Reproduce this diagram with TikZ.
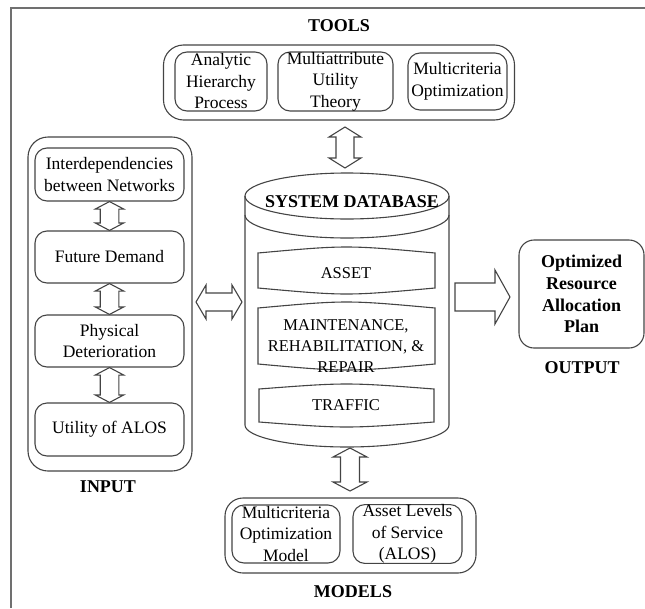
\documentclass[tikz,border=0pt]{standalone}
\usepackage{fontspec}
\setmainfont{Liberation Serif}
\usetikzlibrary{calc}
\definecolor{lc}{HTML}{444444}
\definecolor{fr}{HTML}{707070}

% vertical double block arrow: #1 top tip, #2 bottom tip, #3 shaft half width, #4 head half width, #5 head length
\newcommand\vdarrow[5]{%
  \draw[blockarrow] let \p1=(#1), \p2=(#2) in
    (\x1,\y1) -- (\x1+#4pt,\y1-#5pt) -- (\x1+#3pt,\y1-#5pt) -- (\x1+#3pt,\y2+#5pt)
    -- (\x1+#4pt,\y2+#5pt) -- (\x1,\y2) -- (\x1-#4pt,\y2+#5pt) -- (\x1-#3pt,\y2+#5pt)
    -- (\x1-#3pt,\y1-#5pt) -- (\x1-#4pt,\y1-#5pt) -- cycle;}
% horizontal double block arrow: #1 left tip, #2 right tip
\newcommand\hdarrow[5]{%
  \draw[blockarrow] let \p1=(#1), \p2=(#2) in
    (\x1,\y1) -- (\x1+#5pt,\y1+#4pt) -- (\x1+#5pt,\y1+#3pt) -- (\x2-#5pt,\y1+#3pt)
    -- (\x2-#5pt,\y1+#4pt) -- (\x2,\y1) -- (\x2-#5pt,\y1-#4pt) -- (\x2-#5pt,\y1-#3pt)
    -- (\x1+#5pt,\y1-#3pt) -- (\x1+#5pt,\y1-#4pt) -- cycle;}
% single block arrow pointing right: #1 tail, #2 tip
\newcommand\hsarrow[5]{%
  \draw[blockarrow] let \p1=(#1), \p2=(#2) in
    (\x1,\y1+#3pt) -- (\x2-#5pt,\y1+#3pt) -- (\x2-#5pt,\y1+#4pt) -- (\x2,\y1)
    -- (\x2-#5pt,\y1-#4pt) -- (\x2-#5pt,\y1-#3pt) -- (\x1,\y1-#3pt) -- cycle;}
% database layer: #1 left, #2 right, #3 top, #4 bottom, #5 bulge
\newcommand\dblayer[5]{%
  \draw[drum] (#1,#3) .. controls ({(#1+#2)/2},{#3-4/3*#5}) .. (#2,#3) -- (#2,#4)
    .. controls ({(#1+#2)/2},{#4+4/3*#5}) .. (#1,#4) -- cycle;}

\begin{document}
\begin{tikzpicture}[x=1pt,y=-1pt,
  box/.style={draw=lc, line width=1.1pt, rounded corners=12pt, inner sep=0pt,
    align=center, font=\fontsize{17.5}{21.5}\selectfont},
  group/.style={draw=lc, line width=1.1pt, rounded corners=20pt, inner sep=0pt},
  lbl/.style={font=\fontsize{18}{22}\selectfont\bfseries, inner sep=0pt},
  dbtxt/.style={font=\fontsize{16.5}{21}\selectfont, align=center, inner sep=0pt},
  blockarrow/.style={draw=lc, line width=1.1pt, fill=white, line join=miter},
  drum/.style={draw=lc, line width=1.1pt}]
\useasboundingbox (0,0) rectangle (645,608);

% frame
\draw[fr, line width=2pt] (11,608) -- (11,8) -- (645,8);

% tools
\node[lbl] (toolslbl) at (339,26) {TOOLS};
\node[group, minimum width=351pt, minimum height=75pt] (tools) at (339,82.5) {};
\node[box, minimum width=92pt, minimum height=59pt] (ahp) at (221,81.5) {Analytic\\Hierarchy\\Process};
\node[box, minimum width=115pt, minimum height=59pt] (maut) at (335.5,81.5) {Multiattribute\\Utility\\Theory};
\node[box, minimum width=99pt, minimum height=57pt] (mco) at (457.5,81.5) {Multicriteria\\Optimization};

% input
\node[group, minimum width=164pt, minimum height=334pt] (input) at (110,304) {};
\node[box, minimum width=149pt, minimum height=53pt] (inter) at (109.5,174.5) {Interdependencies\\between Networks};
\node[box, minimum width=149pt, minimum height=52pt] (demand) at (109.5,257) {Future Demand};
\node[box, minimum width=149pt, minimum height=52pt] (phys) at (109.5,341) {Physical\\Deterioration};
\node[box, minimum width=149pt, minimum height=53pt] (util) at (109.5,429.5) {Utility of ALOS};
\node[lbl] (inputlbl) at (108,487) {INPUT};

\vdarrow{inter.south}{demand.north}{9.3}{14.2}{7.5}
\vdarrow{demand.south}{phys.north}{9.3}{14.2}{7.5}
\vdarrow{phys.south}{util.north}{9.3}{14.2}{7.5}

% system database cylinder
\draw[drum] (347,196) ellipse [x radius=102pt, y radius=23pt];
\draw[drum] (245,215) arc [start angle=180, end angle=360, x radius=102pt, y radius=23pt];
\draw[drum] (245,196) -- (245,425) arc [start angle=180, end angle=360, x radius=102pt, y radius=22pt] -- (449,196);
\node[lbl] (db) at (352,202) {SYSTEM DATABASE};

\dblayer{258}{435}{253}{288}{6}
\dblayer{258}{435}{308}{364}{6}
\dblayer{259}{434}{389}{422}{5}
\node[dbtxt] (asset) at (346,273) {ASSET};
\node[dbtxt] (mrr) at (346,346) {MAINTENANCE,\\REHABILITATION, \&\\REPAIR};
\node[dbtxt] (traffic) at (346,405) {TRAFFIC};

% output
\node[box, rounded corners=15pt, minimum width=125pt, minimum height=108pt,
  font=\fontsize{18}{21.7}\selectfont\bfseries] (out) at (581.5,294) {Optimized\\Resource\\Allocation\\Plan};
\node[lbl] (outlbl) at (582,368) {OUTPUT};

% models
\node[group, rounded corners=18pt, minimum width=251pt, minimum height=75pt] (models) at (350.5,535.5) {};
\node[box, minimum width=108pt, minimum height=58pt] (mcom) at (286,534) {Multicriteria\\Optimization\\Model};
\node[box, minimum width=109pt, minimum height=58pt] (alos) at (407.5,534) {Asset Levels\\of Service\\(ALOS)};
\node[lbl] (modelslbl) at (353,592) {MODELS};

% arrow end points next to the database
\coordinate (toolsEnd) at (345,127);
\coordinate (dbTop) at (345,168);
\coordinate (inEnd) at (196,302);
\coordinate (dbLeft) at (242,302);
\coordinate (dbRight) at (455,297);
\coordinate (outEnd) at (510,297);
\coordinate (dbBottom) at (350,448);
\coordinate (modelsEnd) at (350,491);

\vdarrow{toolsEnd}{dbTop}{9}{16}{10}
\hdarrow{inEnd}{dbLeft}{9}{17}{10}
\hsarrow{dbRight}{outEnd}{14}{27}{15}
\vdarrow{dbBottom}{modelsEnd}{9.5}{17}{9}
\end{tikzpicture}
\end{document}
